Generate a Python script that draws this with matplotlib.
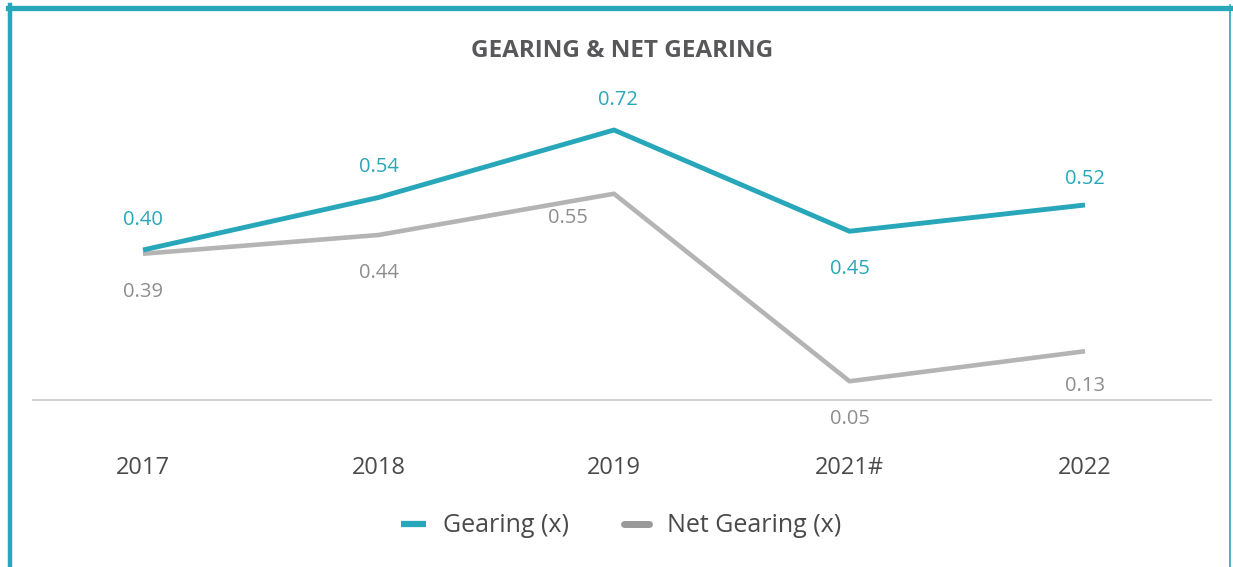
import matplotlib
matplotlib.use("Agg")
import matplotlib.pyplot as plt
from matplotlib.lines import Line2D

years = ["2017", "2018", "2019", "2021#", "2022"]
gearing = [0.40, 0.54, 0.72, 0.45, 0.52]
net_gearing = [0.39, 0.44, 0.55, 0.05, 0.13]

# label offsets in pixels (x right, y up)
gearing_label_dx = [0, 0, 4, 0, 0]
gearing_label_dy = [30, 30, 30, -38, 26]
net_label_dx = [0, 0, -46, 0, 0]
net_label_dy = [-38, -38, -24, -38, -35]

TEAL = "#27A7B9"
GRAY_LINE = "#B4B4B4"
GRAY_TEXT = "#8E8E8E"
DARK = "#4A4A4A"
TITLE = "#58585A"

plt.rcParams['font.family'] = ['Open Sans', 'DejaVu Sans']

W, H = 1233, 567
PX = 0.72  # points per pixel at dpi 100
fig = plt.figure(figsize=(W / 100, H / 100), dpi=100)

ax_left, ax_right = 33, 1211
ax_bottom, ax_top = 400, 80
ax = fig.add_axes([ax_left / W, 1 - ax_bottom / H, (ax_right - ax_left) / W, (ax_bottom - ax_top) / H])
x = list(range(len(years)))
ax.set_xlim(-0.467, 4.535)
ax.set_ylim(0, (ax_bottom - ax_top) / 375.0)

ax.plot(x, net_gearing, color=GRAY_LINE, lw=3.3, solid_capstyle='butt', zorder=2)
ax.plot(x, gearing, color=TEAL, lw=3.5, solid_capstyle='butt', zorder=3)

for xi, v, dx, dy in zip(x, gearing, gearing_label_dx, gearing_label_dy):
    ax.annotate(f"{v:.2f}", (xi, v), xytext=(dx * PX, dy * PX), textcoords="offset points",
                ha="center", va="center", color=TEAL, fontsize=14.5, annotation_clip=False)
for xi, v, dx, dy in zip(x, net_gearing, net_label_dx, net_label_dy):
    ax.annotate(f"{v:.2f}", (xi, v), xytext=(dx * PX, dy * PX), textcoords="offset points",
                ha="center", va="center", color=GRAY_TEXT, fontsize=14.5, annotation_clip=False)

for s in ["top", "right", "left"]:
    ax.spines[s].set_visible(False)
ax.spines["bottom"].set_color("#C8C8C8")
ax.spines["bottom"].set_linewidth(1.2)
ax.set_yticks([])
ax.set_xticks(x)
ax.set_xticklabels(years, fontsize=17, color=DARK)
ax.tick_params(axis="x", length=0, pad=(465 - 400) * PX - 6.5)

fig.text(622 / W, 1 - 51 / H, "GEARING & NET GEARING", ha="center", va="center",
         fontsize=17.5, fontweight="bold", color=TITLE)

handles = [Line2D([0], [0], color=TEAL, lw=4.5, solid_capstyle='butt'),
           Line2D([0], [0], color="#999999", lw=5, solid_capstyle='round')]
fig.legend(handles, ["Gearing (x)", "Net Gearing (x)"], loc="center",
           bbox_to_anchor=(621 / W, 1 - 526 / H), ncol=2, frameon=False,
           fontsize=18, labelcolor=DARK, handlelength=1.0, handletextpad=0.7,
           columnspacing=2.2)

fig.add_artist(Line2D([8 / W, 1231 / W], [1 - 7.5 / H, 1 - 7.5 / H], transform=fig.transFigure, color=TEAL, lw=3.8))
fig.add_artist(Line2D([10 / W, 10 / W], [0, 1 - 5 / H], transform=fig.transFigure, color=TEAL, lw=3.2))
fig.add_artist(Line2D([1229.5 / W, 1229.5 / W], [0, 1 - 5 / H], transform=fig.transFigure, color=TEAL, lw=1.2))

fig.savefig("out.png", dpi=100)
